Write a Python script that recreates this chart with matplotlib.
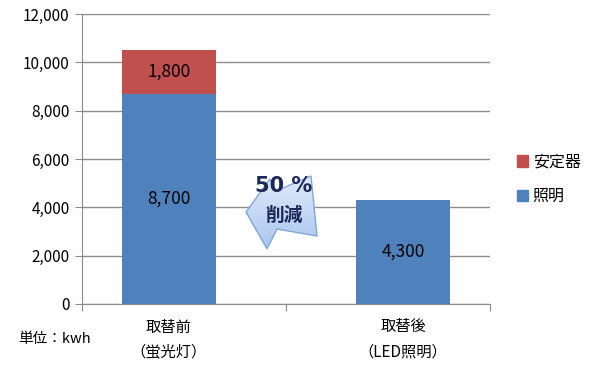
import matplotlib.pyplot as plt
import numpy as np
from matplotlib.patches import Polygon, Patch
from matplotlib.colors import LinearSegmentedColormap

plt.rcParams['font.family'] = ['Noto Sans CJK JP', 'DejaVu Sans']

# Data
categories = ['取替前\n（蛍光灯）', '取替後\n（LED照明）']
lighting = [8700, 4300]
ballast = [1800, 0]
series_names = ['照明', '安定器']
colors = ['#4F81BD', '#C0504D']

fig = plt.figure(figsize=(5.95, 3.67), dpi=100)
ax = fig.add_axes([82 / 595, 1 - 304 / 367, 408 / 595, 290 / 367])

x = np.arange(len(categories))
width = 0.40
ax.bar(x, lighting, width, color=colors[0], zorder=2)
ax.bar(x, ballast, width, bottom=lighting, color=colors[1], zorder=2)

# value labels
for xi, v in zip(x, lighting):
    ax.text(xi, v / 2, f'{v:,}', ha='center', va='center', fontsize=12.5, color='black', zorder=3)
for xi, b, v in zip(x, lighting, ballast):
    if v > 0:
        ax.text(xi, b + v / 2, f'{v:,}', ha='center', va='center', fontsize=12.5, color='black', zorder=3)

# axes
ax.set_xlim(-0.37, 1.37)
ax.set_ylim(0, 12000)
ax.set_yticks(range(0, 12001, 2000))
ax.set_yticklabels([f'{v:,}' for v in range(0, 12001, 2000)], fontsize=11)
ax.yaxis.grid(True, color='#8c8c8c', linewidth=1, zorder=0)
ax.set_axisbelow(True)
for s in ['top', 'right']:
    ax.spines[s].set_visible(False)
for s in ['left', 'bottom']:
    ax.spines[s].set_color('#8c8c8c')
ax.tick_params(axis='y', length=5, color='#8c8c8c', pad=4)
ax.set_xticks([-0.37, 0.5, 1.37])
ax.set_xticklabels([])
ax.tick_params(axis='x', length=5, color='#8c8c8c')
for xi, lab in zip(x, categories):
    ax.text(xi, -0.05, lab, transform=ax.get_xaxis_transform(), ha='center', va='top',
            fontsize=11, linespacing=1.6)

fig.text(18 / 595, 1 - 339 / 367, '単位：kwh', fontsize=10.5, va='center', ha='left')

# legend
handles = [Patch(color=colors[1]), Patch(color=colors[0])]
ax.legend(handles, [series_names[1], series_names[0]], loc='center left',
          bbox_to_anchor=(1.03, 0.43), frameon=False, fontsize=11.5,
          handlelength=0.7, handleheight=0.7, handletextpad=0.3, labelspacing=1.1)

# reduction arrow (figure pixel coords)
pts_px = [(246, 212), (270, 179), (276, 191), (311, 176), (317, 236),
          (277, 229), (267, 249)]
pts = [(px / 595, 1 - py / 367) for px, py in pts_px]
gax = fig.add_axes([0, 0, 1, 1], zorder=4)
gax.set_axis_off()
gax.set_xlim(0, 1)
gax.set_ylim(0, 1)
grad = np.linspace(0, 1, 100).reshape(-1, 1)
cmap = LinearSegmentedColormap.from_list('g', ['#e2ecfb', '#a8c4ee'])
im = gax.imshow(grad, extent=[240 / 595, 320 / 595, 1 - 252 / 367, 1 - 174 / 367],
                cmap=cmap, aspect='auto', origin='upper')
clip = Polygon(pts, closed=True, transform=gax.transAxes, facecolor='none', edgecolor='none')
gax.add_patch(clip)
im.set_clip_path(clip)
edge = Polygon(pts, closed=True, transform=gax.transAxes, facecolor='none',
               edgecolor='#7fa6dc', linewidth=1)
gax.add_patch(edge)
gax.text(284 / 595, 1 - 186 / 367, '50 %', fontsize=15, fontweight='bold', color='#1c2858',
         ha='center', va='center', family=['DejaVu Sans'])
gax.text(284 / 595, 1 - 215 / 367, '削減', fontsize=13.5, fontweight='bold', color='#1c2858',
         ha='center', va='center')

plt.savefig('out.png', dpi=100)
